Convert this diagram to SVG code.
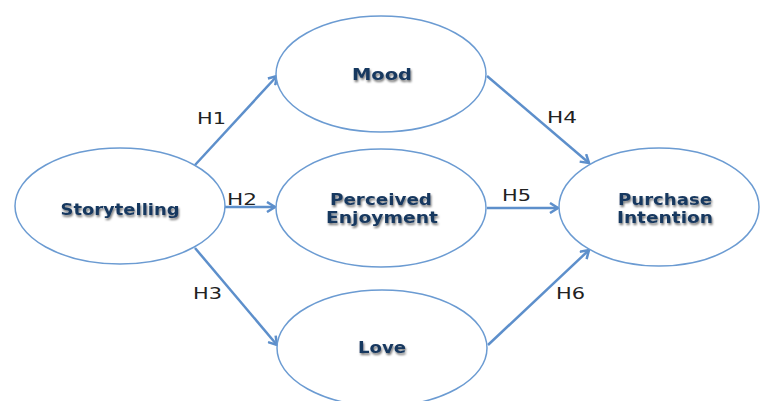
<svg xmlns="http://www.w3.org/2000/svg" width="760" height="401" viewBox="0 0 760 401">
<style>
.node ellipse{fill:#fff;stroke:#6b9bd2;stroke-width:1.5}
.lbl{font-family:"DejaVu Sans",Verdana,sans-serif;font-weight:bold;font-size:15px;fill:#17375e;text-anchor:middle;filter:url(#sh)}
.conn line{stroke:#5d8fcb;stroke-width:2.5;marker-end:url(#ah)}
.h{font-family:"DejaVu Sans",sans-serif;font-size:15px;fill:#222}
</style>
<defs>
<marker id="ah" markerWidth="12" markerHeight="12" refX="9" refY="6" orient="auto" markerUnits="userSpaceOnUse">
<path d="M1,1 L9,6 L1,11" fill="none" stroke="#5d8fcb" stroke-width="2.5" stroke-linejoin="miter"/>
</marker>
<filter id="sh" x="-20%" y="-40%" width="140%" height="180%">
<feGaussianBlur in="SourceAlpha" stdDeviation="1.2" result="b"/>
<feOffset in="b" dx="1" dy="1.5" result="o"/>
<feFlood flood-color="#000" flood-opacity="0.55"/>
<feComposite in2="o" operator="in" result="s"/>
<feMerge><feMergeNode in="s"/><feMergeNode in="SourceGraphic"/></feMerge>
</filter>
</defs>
<rect width="760" height="401" fill="#fff"/>
<g id="connectors" class="conn">
<line x1="195" y1="165" x2="277" y2="76"/>
<line x1="225" y1="207" x2="275" y2="207"/>
<line x1="195" y1="248" x2="277" y2="345"/>
<line x1="487" y1="76" x2="589" y2="163"/>
<line x1="487" y1="208" x2="558" y2="208"/>
<line x1="488" y1="345" x2="589" y2="250"/>
</g>
<g id="labels">
<text class="h" x="197" y="124" textLength="29" lengthAdjust="spacingAndGlyphs">H1</text>
<text class="h" x="227" y="205" textLength="30" lengthAdjust="spacingAndGlyphs">H2</text>
<text class="h" x="193" y="299" textLength="29" lengthAdjust="spacingAndGlyphs">H3</text>
<text class="h" x="547" y="123" textLength="30" lengthAdjust="spacingAndGlyphs">H4</text>
<text class="h" x="502" y="201" textLength="29" lengthAdjust="spacingAndGlyphs">H5</text>
<text class="h" x="556" y="299" textLength="29" lengthAdjust="spacingAndGlyphs">H6</text>
</g>
<g id="storytelling" class="node">
<ellipse cx="120" cy="206" rx="105" ry="58"/>
<text class="lbl" x="120" y="215" textLength="119" lengthAdjust="spacingAndGlyphs">Storytelling</text>
</g>
<g id="mood" class="node">
<ellipse cx="381" cy="74" rx="105" ry="58"/>
<text class="lbl" x="382" y="80" textLength="60" lengthAdjust="spacingAndGlyphs">Mood</text>
</g>
<g id="enjoyment" class="node">
<ellipse cx="381" cy="208" rx="105" ry="59"/>
<text class="lbl" x="381" y="205" textLength="102" lengthAdjust="spacingAndGlyphs">Perceived</text>
<text class="lbl" x="382" y="223" textLength="112" lengthAdjust="spacingAndGlyphs">Enjoyment</text>
</g>
<g id="love" class="node">
<ellipse cx="382" cy="348" rx="105" ry="58"/>
<text class="lbl" x="382" y="353" textLength="48" lengthAdjust="spacingAndGlyphs">Love</text>
</g>
<g id="purchase" class="node">
<ellipse cx="659" cy="207" rx="100" ry="59"/>
<text class="lbl" x="665" y="205" textLength="94" lengthAdjust="spacingAndGlyphs">Purchase</text>
<text class="lbl" x="665" y="223" textLength="96" lengthAdjust="spacingAndGlyphs">Intention</text>
</g>
</svg>
